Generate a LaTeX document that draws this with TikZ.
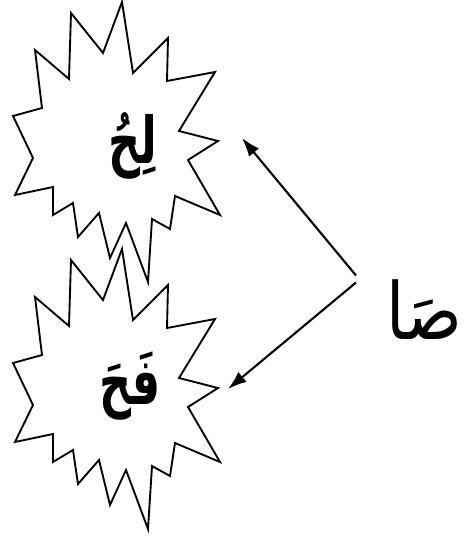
\documentclass[tikz,border=0pt]{standalone}
\usepackage{fontspec}
\newfontfamily\arabicfont[Script=Arabic]{DejaVu Sans}
\TeXXeTstate=1
\usetikzlibrary{positioning, calc, arrows.meta}

\begin{document}
\begin{tikzpicture}[x=0.03cm, y=-0.03cm]
    \useasboundingbox (0,0) rectangle (464,538);
    % the two bursts
    \draw[line width=1.6pt, line join=miter] (122,2) -- (133,73) -- (168,38) -- (167,81) -- (215,72) -- (179,131)
        -- (218,141) -- (188,160) -- (220,215) -- (175,196) -- (170,229) -- (152,219) -- (148,282)
        -- (126,223) -- (110,258) -- (99,213) -- (78,237) -- (73,203) -- (53,215) -- (53,187)
        -- (15,195) -- (33,158) -- (13,116) -- (42,108) -- (35,50) -- (69,79) -- (71,13) -- (103,53) -- cycle;
    \draw[line width=1.6pt, line join=miter, shift={(0,247)}] (122,2) -- (133,73) -- (168,38) -- (167,81) -- (215,72) -- (179,131)
        -- (218,141) -- (188,160) -- (220,215) -- (175,196) -- (170,229) -- (152,219) -- (148,282)
        -- (126,223) -- (110,258) -- (99,213) -- (78,237) -- (73,203) -- (53,215) -- (53,187)
        -- (15,195) -- (33,158) -- (13,116) -- (42,108) -- (35,50) -- (69,79) -- (71,13) -- (103,53) -- cycle;
    \node[font=\arabicfont\bfseries\fontsize{38}{38}\selectfont, inner sep=0pt] (lahu) at (133,146) {\scalebox{1}[1.45]{\beginR لِحُ\endR}};
    \node[font=\arabicfont\bfseries\fontsize{38}{38}\selectfont, inner sep=0pt] (faha) at (130,386) {\scalebox{1}[1.45]{\beginR فَحَ\endR}};
    \node[font=\arabicfont\fontsize{56}{56}\selectfont, inner sep=0pt] (saa) at (424,310) {\scalebox{1}[1.2]{\beginR صَا\endR}};
    % arrows
    \coordinate (fork) at (356,279);
    \coordinate (tipA) at (242,138);
    \coordinate (tipB) at (228,389);
    \draw[-{Latex[length=16pt, width=11pt]}, line width=1.8pt] ([yshift=3pt]fork) -- (tipA);
    \draw[-{Latex[length=16pt, width=11pt]}, line width=1.8pt] ([yshift=-3pt]fork) -- (tipB);
\end{tikzpicture}
\end{document}
